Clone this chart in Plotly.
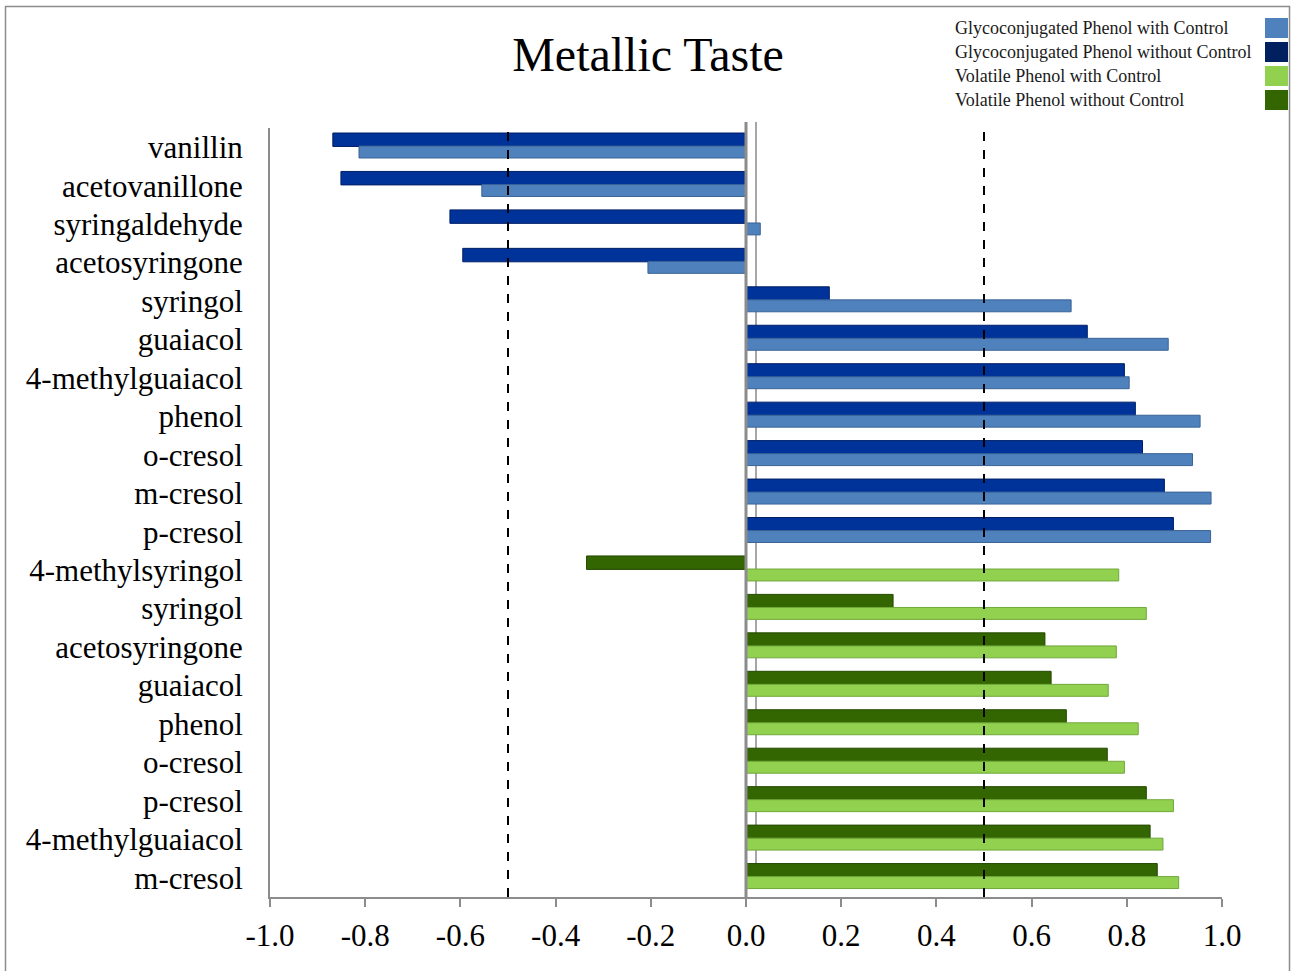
import plotly.graph_objects as go

# Compounds and panel scores (glycoconjugated block on top, volatile block below)
glyco_compounds = ["vanillin", "acetovanillone", "syringaldehyde", "acetosyringone",
                   "syringol", "guaiacol", "4-methylguaiacol", "phenol",
                   "o-cresol", "m-cresol", "p-cresol"]
glyco_with_control = [-0.813, -0.555, 0.03, -0.206, 0.683, 0.887, 0.805, 0.954, 0.938, 0.977, 0.976]
glyco_without_control = [-0.868, -0.851, -0.622, -0.595, 0.175, 0.717, 0.795, 0.818, 0.833, 0.879, 0.898]

volatile_compounds = ["4-methylsyringol", "syringol", "acetosyringone", "guaiacol",
                      "phenol", "o-cresol", "p-cresol", "4-methylguaiacol", "m-cresol"]
volatile_with_control = [0.783, 0.841, 0.778, 0.761, 0.824, 0.795, 0.898, 0.876, 0.909]
volatile_without_control = [-0.335, 0.309, 0.628, 0.641, 0.673, 0.759, 0.841, 0.849, 0.864]

x_tick_values = [-1.0, -0.8, -0.6, -0.4, -0.2, 0.0, 0.2, 0.4, 0.6, 0.8, 1.0]
x_tick_labels = ["-1.0", "-0.8", "-0.6", "-0.4", "-0.2", "0.0", "0.2", "0.4", "0.6", "0.8", "1.0"]
threshold_lines = [-0.5, 0.5]

series_names = ["Glycoconjugated Phenol with Control", "Glycoconjugated Phenol without Control",
                "Volatile Phenol with Control", "Volatile Phenol without Control"]

# Styling
FONT = "Liberation Serif, Times New Roman, serif"
LIGHT_BLUE, DARK_BLUE = "#4F81BD", "#003399"
LIGHT_GREEN, DARK_GREEN = "#92D050", "#336600"
SWATCHES = ["#4F81BD", "#002060", "#92D050", "#336600"]
EDGES = {LIGHT_BLUE: "#3A6396", DARK_BLUE: "#001F66", LIGHT_GREEN: "#70A83A", DARK_GREEN: "#254A00"}

W, H = 1292, 971
L, R, T, B = 270, 70, 128, 74
PW, PH = W - L - R, H - T - B

def px(x):
    return (x - L) / PW

def py(y):
    return 1 - (y - T) / PH

labels = glyco_compounds + volatile_compounds
n_glyco = len(glyco_compounds)
glyco_pos = list(range(n_glyco))
vol_pos = list(range(n_glyco, len(labels)))

fig = go.Figure()

def add_bars(values, positions, color, offset, width):
    fig.add_trace(go.Bar(
        x=values, y=positions, orientation="h",
        offset=offset, width=width,
        marker=dict(color=color, line=dict(color=EDGES[color], width=1)),
        showlegend=False, hoverinfo="x",
    ))

# "without control" bar sits above its "with control" partner
add_bars(glyco_without_control, glyco_pos, DARK_BLUE, -0.37, 0.35)
add_bars(glyco_with_control, glyco_pos, LIGHT_BLUE, -0.03, 0.31)
add_bars(volatile_without_control, vol_pos, DARK_GREEN, -0.37, 0.35)
add_bars(volatile_with_control, vol_pos, LIGHT_GREEN, -0.03, 0.31)

shapes = []
# dashed reference lines
for v in threshold_lines:
    shapes.append(dict(type="line", xref="x", yref="paper", x0=v, x1=v, y0=0, y1=1,
                       line=dict(color="black", width=2, dash="dash"), layer="above"))
# back wall line of the zero plane
shapes.append(dict(type="line", xref="x", yref="paper", x0=0.021, x1=0.021,
                   y0=py(888), y1=py(122), line=dict(color="#A6A6A6", width=2), layer="below"))
# zero line
shapes.append(dict(type="line", xref="x", yref="paper", x0=0, x1=0,
                   y0=0, y1=py(122), line=dict(color="#8C8C8C", width=3), layer="above"))
# outer chart border
shapes.append(dict(type="rect", xref="paper", yref="paper",
                   x0=px(5.5), x1=px(1289.5), y0=py(990), y1=py(6.5),
                   line=dict(color="#8C8C8C", width=1.5), fillcolor="rgba(0,0,0,0)"))

annotations = []
# legend: text on the left, colour swatch on the right
for i, (name, col) in enumerate(zip(series_names, SWATCHES)):
    yc = 28 + 24 * i
    annotations.append(dict(xref="paper", yref="paper", x=px(953), y=py(yc),
                            xanchor="left", yanchor="middle", text=name, showarrow=False,
                            font=dict(family=FONT, size=18, color="#1a1a1a")))
    shapes.append(dict(type="rect", xref="paper", yref="paper",
                       x0=px(1265), x1=px(1288), y0=py(yc + 10), y1=py(yc - 10),
                       fillcolor=col, line=dict(width=0)))

fig.update_layout(
    width=W, height=H,
    margin=dict(l=L, r=R, t=T, b=B),
    paper_bgcolor="white", plot_bgcolor="white",
    barmode="overlay",
    title=dict(text="Metallic Taste", x=648 / W, xref="container", xanchor="center",
               y=1 - 54 / H, yref="container", yanchor="middle",
               font=dict(family=FONT, size=48, color="black")),
    font=dict(family=FONT, color="black"),
    xaxis=dict(range=[-1.0, 1.0], tickvals=x_tick_values, ticktext=x_tick_labels,
               showgrid=False, zeroline=False, showline=True, linecolor="#8C8C8C", linewidth=2,
               ticks="outside", ticklen=8, tickwidth=2, tickcolor="#8C8C8C",
               tickfont=dict(family=FONT, size=31, color="black"), ticklabelstandoff=2),
    yaxis=dict(range=[len(labels) - 0.5, -0.5], tickvals=list(range(len(labels))), ticktext=labels,
               showgrid=False, zeroline=False, showline=True, linecolor="#8C8C8C", linewidth=2,
               ticks="", tickfont=dict(family=FONT, size=31, color="black"), ticklabelstandoff=19),
    shapes=shapes, annotations=annotations,
)

fig.write_html("out.html")
